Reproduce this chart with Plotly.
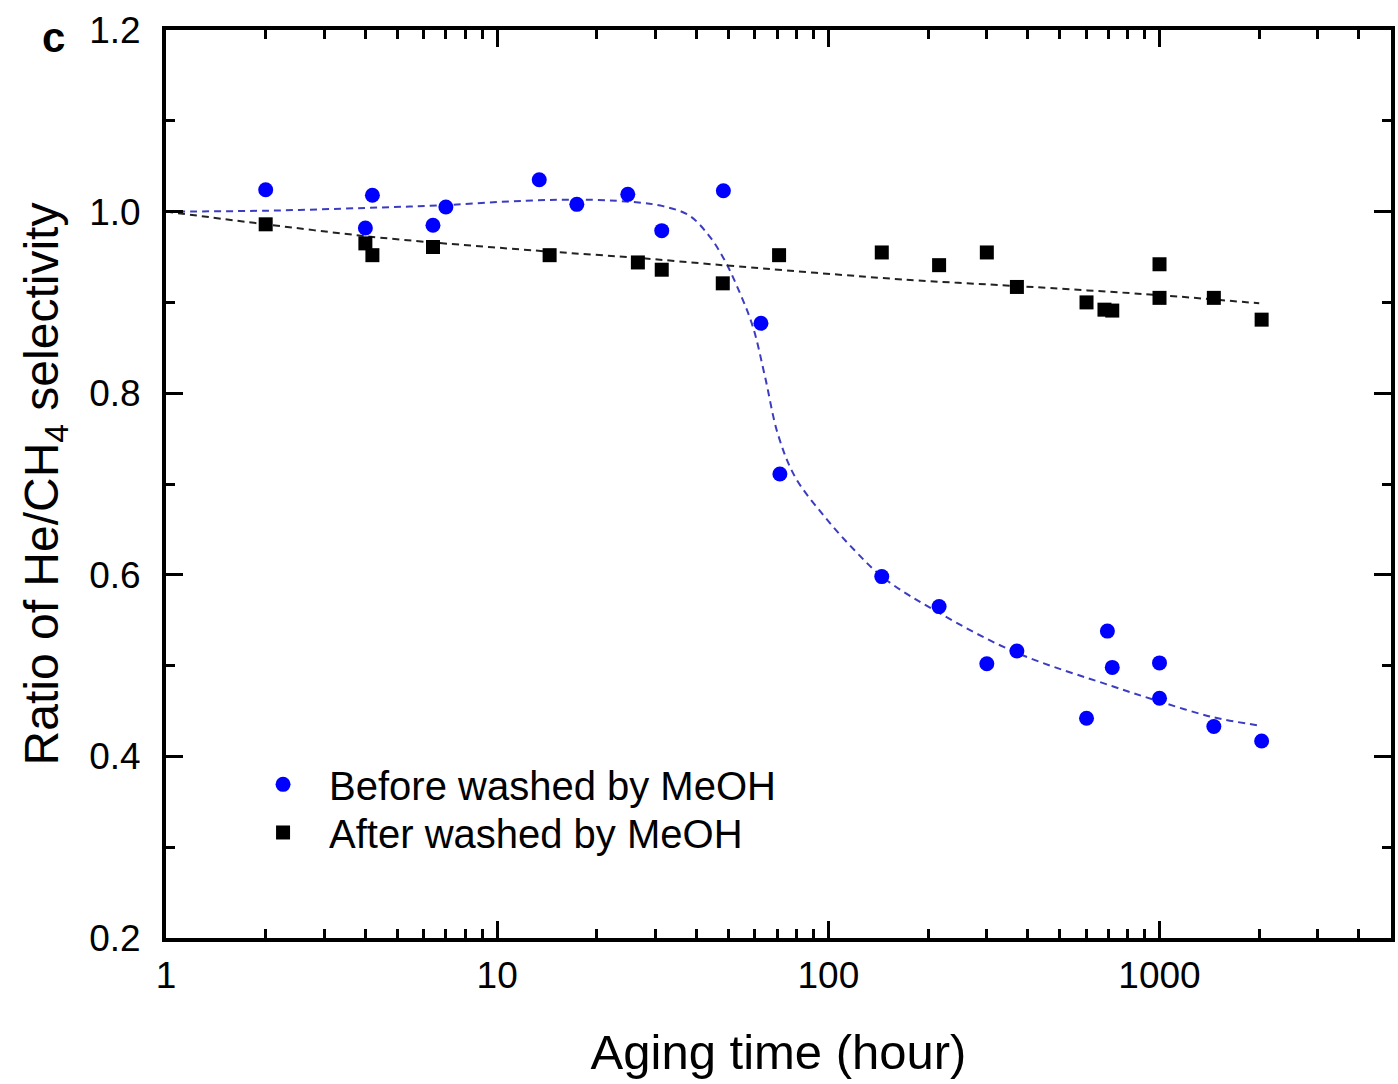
import plotly.graph_objects as go

# ---- data ----
before_x = [2, 4, 4.2, 6.4, 7, 13.4, 17.4, 24.8, 31.4, 48.2, 62.6, 71.4, 145, 216, 301, 371, 602, 696, 720, 1000, 1000, 1459, 2034]
before_y = [1.024, 0.982, 1.018, 0.985, 1.005, 1.035, 1.008, 1.019, 0.979, 1.023, 0.877, 0.711, 0.598, 0.565, 0.502, 0.516, 0.442, 0.538, 0.498, 0.503, 0.464, 0.433, 0.417]

after_x = [2, 4, 4.2, 6.4, 14.4, 26.6, 31.4, 48, 71, 145, 216, 301, 371, 602, 682, 720, 1000, 1000, 1459, 2034]
after_y = [0.986, 0.965, 0.952, 0.961, 0.952, 0.944, 0.936, 0.921, 0.952, 0.955, 0.941, 0.955, 0.917, 0.900, 0.892, 0.891, 0.942, 0.905, 0.905, 0.881]

before_fit_x = [1, 2, 4, 6.8, 12.2, 19.3, 26.7, 31.7, 37.9, 43.3, 48.2, 53.4, 59.2, 64.4, 70.4, 79.3, 97.5, 120, 147.6, 216, 371, 725, 1010, 1459, 2000]
before_fit_y = [1.0, 1.001, 1.004, 1.007, 1.012, 1.013, 1.010, 1.006, 0.996, 0.975, 0.949, 0.915, 0.873, 0.818, 0.755, 0.708, 0.664, 0.627, 0.596, 0.558, 0.514, 0.477, 0.460, 0.443, 0.434]

after_fit_x = [1, 2, 4, 6.4, 14.3, 26.7, 48, 171, 371, 1000, 2000]
after_fit_y = [1.0, 0.986, 0.973, 0.966, 0.956, 0.949, 0.941, 0.925, 0.918, 0.908, 0.899]

x_tickvals = [1, 10, 100, 1000]
x_ticktext = ["1", "10", "100", "1000"]
y_tickvals = [0.2, 0.4, 0.6, 0.8, 1.0, 1.2]
y_ticktext = ["0.2", "0.4", "0.6", "0.8", "1.0", "1.2"]

FONT = "Arial, Liberation Sans, sans-serif"

fig = go.Figure()

fig.add_trace(go.Scatter(
    x=before_fit_x, y=before_fit_y, mode="lines", showlegend=False,
    line=dict(color="#3c3cc0", width=2, dash="7px,5px", shape="spline", smoothing=1.0),
    hoverinfo="skip"))
fig.add_trace(go.Scatter(
    x=after_fit_x, y=after_fit_y, mode="lines", showlegend=False,
    line=dict(color="#222222", width=2, dash="7px,5px", shape="spline", smoothing=0.8),
    hoverinfo="skip"))

fig.add_trace(go.Scatter(
    x=before_x, y=before_y, mode="markers", name="Before washed by MeOH",
    marker=dict(symbol="circle", size=15, color="#0000ff", line=dict(width=0)),
    legend="legend"))
fig.add_trace(go.Scatter(
    x=after_x, y=after_y, mode="markers", name="After washed by MeOH",
    marker=dict(symbol="square", size=14, color="#000000", line=dict(width=0)),
    legend="legend2"))

axis_common = dict(
    showline=True, linecolor="black", linewidth=4, mirror="allticks",
    ticks="inside", ticklen=17, tickwidth=3, tickcolor="black",
    showgrid=False, zeroline=False,
    tickfont=dict(family=FONT, size=37, color="black"),
)

fig.update_xaxes(
    type="log", range=[0, 3.699],
    tickvals=x_tickvals, ticktext=x_ticktext,
    minor=dict(ticks="inside", ticklen=9, tickwidth=3, tickcolor="black", showgrid=False, dtick="D1"),
    title=dict(text="Aging time (hour)", font=dict(family=FONT, size=49, color="black"), standoff=40),
    ticklabelstandoff=2,
    **axis_common)

fig.update_yaxes(
    range=[0.2, 1.2],
    tickvals=y_tickvals, ticktext=y_ticktext,
    minor=dict(ticks="inside", ticklen=9, tickwidth=3, tickcolor="black", showgrid=False, tickvals=[0.3, 0.5, 0.7, 0.9, 1.1]),
    title=dict(text="Ratio of He/CH<sub>4</sub> selectivity", font=dict(family=FONT, size=48, color="black"), standoff=16),
    ticklabelstandoff=14,
    **axis_common)

fig.add_annotation(
    text="<b>c</b>", xref="paper", yref="paper", x=-0.092, y=0.992, xanchor="center", yanchor="middle",
    showarrow=False, font=dict(family=FONT, size=42, color="black"))

legend_common = dict(
    xanchor="left", yanchor="top",
    bgcolor="rgba(0,0,0,0)", borderwidth=0,
    font=dict(family=FONT, size=40, color="black"),
    itemsizing="trace", itemwidth=82, tracegroupgap=0,
)

fig.update_layout(
    width=1398, height=1084,
    margin=dict(l=166, r=3, t=30, b=146),
    paper_bgcolor="white", plot_bgcolor="white",
    font=dict(family=FONT, color="black"),
    legend=dict(x=0.058, y=0.205, **legend_common),
    legend2=dict(x=0.058, y=0.152, **legend_common),
)

fig.write_html("out.html")
